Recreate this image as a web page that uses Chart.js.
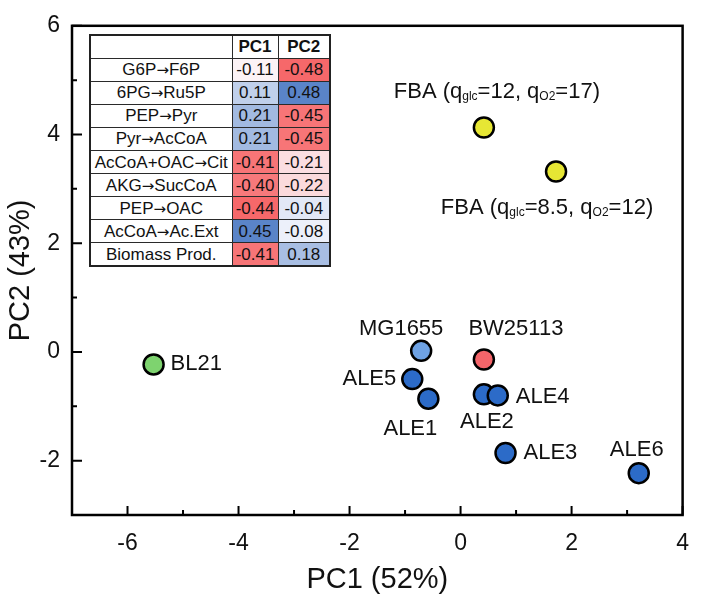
<!DOCTYPE html>
<html>
<head>
<meta charset="utf-8">
<script src="https://cdn.jsdelivr.net/npm/chart.js@4.4.1/dist/chart.umd.min.js"></script>
<style>
body { margin: 0; background: #fff; }
#wrap { position: relative; width: 704px; height: 602px; }
#loadings { position: absolute; left: 89px; top: 34px; width: 240px; border-collapse: collapse; table-layout: fixed;
  font-family: Arial, "Liberation Sans", sans-serif; font-size: 17px; color: #111; background: #fff; border: 2px solid #222; }
#loadings tr { height: 23.1px; }
#loadings td { border: 1px solid #2a2a2a; padding: 0; text-align: center; line-height: 1; white-space: nowrap; overflow: hidden; }
#loadings td.hd { font-weight: bold; }
#loadings .ar { font-family: "DejaVu Sans", sans-serif; font-size: 15px; }
</style>
</head>
<body>
<div id="wrap">
  <canvas id="pca" width="704" height="602"></canvas>
  <table id="loadings"><colgroup><col style="width:142px"><col style="width:46px"><col style="width:52px"></colgroup></table>
</div>
<script>
// scores
var names = ['FBA (q_{glc}=12, q_{O2}=17)', 'FBA (q_{glc}=8.5, q_{O2}=12)', 'BL21', 'MG1655', 'BW25113',
             'ALE5', 'ALE1', 'ALE2', 'ALE4', 'ALE3', 'ALE6'];
var pc1 = [0.42, 1.72, -5.53, -0.71, 0.42, -0.87, -0.58, 0.42, 0.67, 0.81, 3.21];
var pc2 = [4.13, 3.32, -0.23, 0.02, -0.14, -0.50, -0.86, -0.78, -0.80, -1.86, -2.23];
var groups = ['fba', 'fba', 'bl21', 'mg', 'bw', 'ale', 'ale', 'ale', 'ale', 'ale', 'ale'];

// loadings table
var reactions = ['G6P\u2192F6P', '6PG\u2192Ru5P', 'PEP\u2192Pyr', 'Pyr\u2192AcCoA', 'AcCoA+OAC\u2192Cit',
                 'AKG\u2192SucCoA', 'PEP\u2192OAC', 'AcCoA\u2192Ac.Ext', 'Biomass Prod.'];
var load1 = [-0.11, 0.11, 0.21, 0.21, -0.41, -0.40, -0.44, 0.45, -0.41];
var load2 = [-0.48, 0.48, -0.45, -0.45, -0.21, -0.22, -0.04, -0.08, 0.18];

var xTickLabels = [-6, -4, -2, 0, 2, 4];
var yTickLabels = [-2, 0, 2, 4, 6];

var groupColors = { fba: '#e6e634', bl21: '#7ed36f', mg: '#6ea2e4', bw: '#f4656a', ale: '#2c6bc8' };
// label offsets from the point, in px, and text alignment
var labelPos = [[13, -36, 'center'], [-9, 36, 'center'], [17, 0, 'left'], [-20, -22, 'center'], [32, -31, 'center'],
                [-16, 0, 'right'], [-18, 30, 'center'], [3, 28, 'center'], [18, 2, 'left'], [18, 0, 'left'], [-2, -23, 'center']];

var FONT = 'Arial, "Liberation Sans", sans-serif';

// build table
function cellColor(v, arr) {
  var mid = arr.reduce(function (a, b) { return a + b; }, 0) / arr.length;
  var lo = Math.min.apply(null, arr), hi = Math.max.apply(null, arr);
  var w = [252, 252, 255], c, t;
  if (v >= mid) { c = [90, 132, 200]; t = (v - mid) / (hi - mid); }
  else { c = [246, 104, 106]; t = (mid - v) / (mid - lo); }
  return 'rgb(' + w.map(function (x, i) { return Math.round(x + (c[i] - x) * t); }).join(',') + ')';
}
function fmt(v) { return v.toFixed(2); }
var tbl = document.getElementById('loadings');
var html = '<tr><td></td><td class="hd">PC1</td><td class="hd">PC2</td></tr>';
reactions.forEach(function (r, i) {
  var label = r.replace('\u2192', '<span class="ar">\u2192</span>');
  html += '<tr><td>' + label + '</td><td style="background:' + cellColor(load1[i], load1) + '">' + fmt(load1[i]) +
          '</td><td style="background:' + cellColor(load2[i], load2) + '">' + fmt(load2[i]) + '</td></tr>';
});
tbl.insertAdjacentHTML('beforeend', html);

// text with _{sub} parts
function drawRich(ctx, str, x, y, align) {
  var parts = str.split(/(_\{[^}]*\})/).filter(function (s) { return s.length; });
  var segs = parts.map(function (p) {
    var sub = p.indexOf('_{') === 0;
    return { t: sub ? p.slice(2, -1) : p, f: sub ? '12px ' + FONT : '22px ' + FONT, dy: sub ? 5 : 0 };
  });
  var total = 0;
  segs.forEach(function (s) { ctx.font = s.f; s.w = ctx.measureText(s.t).width; total += s.w; });
  var x0 = align === 'left' ? x : align === 'right' ? x - total : x - total / 2;
  ctx.textAlign = 'left';
  ctx.textBaseline = 'middle';
  segs.forEach(function (s) { ctx.font = s.f; ctx.fillText(s.t, x0, y + s.dy); x0 += s.w; });
}

var framePlugin = {
  id: 'frame',
  afterDraw: function (chart) {
    var ctx = chart.ctx, a = chart.chartArea, xs = chart.scales.x, ys = chart.scales.y;
    ctx.save();
    ctx.strokeStyle = '#000';
    ctx.lineWidth = 2;
    ctx.beginPath();
    for (var v = -7; v <= 4; v++) {
      var px = xs.getPixelForValue(v), len = v % 2 === 0 ? 9 : 5;
      ctx.moveTo(px, a.bottom); ctx.lineTo(px, a.bottom - len);
    }
    for (var w = -3; w <= 6; w++) {
      var py = ys.getPixelForValue(w), l2 = w % 2 === 0 ? 10 : 5;
      ctx.moveTo(a.left, py); ctx.lineTo(a.left + l2, py);
    }
    ctx.stroke();
    ctx.lineWidth = 2.5;
    ctx.strokeRect(a.left, a.top, a.right - a.left, a.bottom - a.top);
    ctx.restore();
  },
  afterDatasetsDraw: function (chart) {
    var ctx = chart.ctx, meta = chart.getDatasetMeta(0);
    ctx.save();
    ctx.fillStyle = '#111';
    meta.data.forEach(function (pt, i) {
      drawRich(ctx, names[i], pt.x + labelPos[i][0], pt.y + labelPos[i][1], labelPos[i][2]);
    });
    ctx.restore();
  }
};

new Chart(document.getElementById('pca'), {
  type: 'scatter',
  data: {
    datasets: [{
      data: pc1.map(function (x, i) { return { x: x, y: pc2[i] }; }),
      backgroundColor: groups.map(function (g) { return groupColors[g]; }),
      borderColor: '#000',
      borderWidth: 2.5,
      pointRadius: 10,
      pointHoverRadius: 10
    }]
  },
  options: {
    responsive: false,
    animation: false,
    devicePixelRatio: 1,
    layout: { padding: { top: 16, right: 12, left: 0, bottom: 0 } },
    plugins: { legend: { display: false }, tooltip: { enabled: false } },
    scales: {
      x: {
        type: 'linear', min: -7, max: 4,
        afterFit: function (s) { s.height = 87; },
        grid: { display: false, drawTicks: false },
        border: { display: false },
        ticks: {
          stepSize: 1, padding: 15, color: '#111', font: { family: FONT, size: 23 },
          callback: function (v) { return xTickLabels.indexOf(v) >= 0 ? String(v) : ''; }
        },
        title: { display: true, text: 'PC1 (52%)', color: '#111', font: { family: FONT, size: 29 }, padding: { bottom: 5 } }
      },
      y: {
        type: 'linear', min: -3, max: 6,
        afterFit: function (s) { s.width = 72; },
        grid: { display: false, drawTicks: false },
        border: { display: false },
        ticks: {
          stepSize: 1, padding: 12, color: '#111', font: { family: FONT, size: 23 },
          callback: function (v) { return yTickLabels.indexOf(v) >= 0 ? String(v) : ''; }
        },
        title: { display: true, text: 'PC2 (43%)', color: '#111', font: { family: FONT, size: 29 }, padding: { top: 4 } }
      }
    }
  },
  plugins: [framePlugin]
});
</script>
</body>
</html>
